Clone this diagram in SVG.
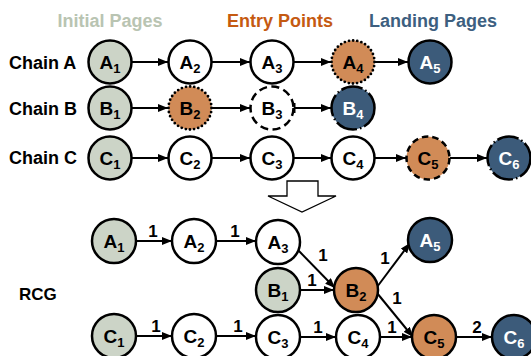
<svg xmlns="http://www.w3.org/2000/svg" width="531" height="356" viewBox="0 0 531 356">
  <defs>
    <marker id="arrow" markerUnits="userSpaceOnUse" markerWidth="10" markerHeight="8" refX="10" refY="4" orient="auto">
      <path d="M0,0 L10,4 L0,8 z" fill="#000"/>
    </marker>
    <style>
      text { font-family: "Liberation Sans", Arial, sans-serif; font-weight: bold; fill: #000; }
      .title { font-size: 18px; text-anchor: middle; }
      .rowlabel { font-size: 18px; }
      .lbl { font-size: 19px; text-anchor: middle; }
      .lbl.light { fill: #fff; }
      .sub { font-size: 13px; }
      .elbl { font-size: 17px; text-anchor: middle; }
      circle { stroke: #000; stroke-width: 2.5; }
      .init { fill: #ccd4c7; }
      .plain { fill: #fff; }
      .entry { fill: #d18b57; }
      .land { fill: #3c5b7a; }
      .dotted { stroke-dasharray: 0 4.2; stroke-linecap: round; stroke-width: 2.8; }
      .dashed { stroke-dasharray: 8 4.5; }
      .dashed2 { stroke-dasharray: 6.5 4; }
      .dashdot { stroke-dasharray: 22 3 1.5 3; }
      .edge { stroke: #000; stroke-width: 2; fill: none; marker-end: url(#arrow); }
      .tick { stroke: #000; stroke-width: 2; }
    </style>
  </defs>

  <!-- legend titles -->
  <text class="title" x="110" y="26.5" style="fill:#b9c4b2">Initial Pages</text>
  <text class="title" x="280" y="26.5" style="fill:#c55a11">Entry Points</text>
  <text class="title" x="433" y="26.5" style="fill:#3d5f80">Landing Pages</text>

  <!-- row labels -->
  <text class="rowlabel" x="9" y="68.5">Chain A</text>
  <text class="rowlabel" x="9" y="114.5">Chain B</text>
  <text class="rowlabel" x="9" y="164">Chain C</text>
  <text class="rowlabel" x="19" y="299.5" style="font-size:17px">RCG</text>

  <!-- transform arrow -->
  <polygon points="287,181 318,181 318,196 336,196 302,212 268,196 287,196" fill="#fff" stroke="#000" stroke-width="1.3"/>

  <!-- connectors -->
  <g id="connectors">
    <!-- chain A -->
    <line class="edge" x1="132" y1="62" x2="168" y2="62"/>
    <line class="edge" x1="212" y1="62" x2="250" y2="62"/>
    <line class="edge" x1="293" y1="62" x2="331" y2="62"/>
    <line class="edge" x1="375" y1="62" x2="408" y2="62"/>
    <!-- chain B -->
    <line class="edge" x1="132" y1="108" x2="168" y2="108"/>
    <line class="edge" x1="212" y1="108" x2="250" y2="108"/>
    <line class="tick" x1="294.5" y1="103" x2="294.5" y2="113"/>
    <line class="edge" x1="294.5" y1="108" x2="331" y2="108"/>
    <!-- chain C -->
    <line class="edge" x1="132" y1="158" x2="168" y2="158"/>
    <line class="edge" x1="212" y1="158" x2="250" y2="158"/>
    <line class="edge" x1="293" y1="158" x2="331" y2="158"/>
    <line class="edge" x1="375" y1="158" x2="406" y2="158"/>
    <line class="edge" x1="450" y1="158" x2="487" y2="158"/>
    <!-- RCG -->
    <line class="edge" x1="136" y1="241" x2="172" y2="241"/>
    <line class="edge" x1="216" y1="241" x2="256" y2="241"/>
    <line class="edge" x1="297" y1="249" x2="335" y2="288"/>
    <line class="edge" x1="300" y1="290" x2="334" y2="290"/>
    <line class="edge" x1="377" y1="287" x2="410" y2="243"/>
    <line class="edge" x1="377" y1="293" x2="413" y2="337"/>
    <line class="edge" x1="136" y1="336" x2="172" y2="336"/>
    <line class="edge" x1="216" y1="336" x2="256" y2="336"/>
    <line class="edge" x1="300" y1="337" x2="336" y2="337"/>
    <line class="edge" x1="380" y1="337" x2="412" y2="337"/>
    <line class="edge" x1="456" y1="337" x2="492" y2="337"/>
    <!-- edge weights -->
    <text class="elbl" x="153" y="237">1</text>
    <text class="elbl" x="235" y="237">1</text>
    <text class="elbl" x="323" y="261">1</text>
    <text class="elbl" x="312" y="286">1</text>
    <text class="elbl" x="385" y="264">1</text>
    <text class="elbl" x="397" y="304">1</text>
    <text class="elbl" x="156" y="332">1</text>
    <text class="elbl" x="238" y="332">1</text>
    <text class="elbl" x="318" y="333">1</text>
    <text class="elbl" x="392" y="333">1</text>
    <text class="elbl" x="477" y="333">2</text>
  </g>

  <!-- chain A nodes -->
  <g id="chainA-A1"><circle class="init" cx="110" cy="62" r="21.5"/><text class="lbl" x="110" y="68.5">A<tspan class="sub" dy="4">1</tspan></text></g>
  <g id="chainA-A2"><circle class="plain" cx="190" cy="62" r="21.5"/><text class="lbl" x="190" y="68.5">A<tspan class="sub" dy="4">2</tspan></text></g>
  <g id="chainA-A3"><circle class="plain" cx="272" cy="62" r="21.5"/><text class="lbl" x="272" y="68.5">A<tspan class="sub" dy="4">3</tspan></text></g>
  <g id="chainA-A4"><circle class="entry dotted" cx="353" cy="62" r="21.5"/><text class="lbl" x="353" y="68.5">A<tspan class="sub" dy="4">4</tspan></text></g>
  <g id="chainA-A5"><circle class="land" cx="430" cy="62" r="21.5"/><text class="lbl light" x="430" y="68.5">A<tspan class="sub" dy="4">5</tspan></text></g>

  <!-- chain B nodes -->
  <g id="chainB-B1"><circle class="init" cx="110" cy="108" r="21.5"/><text class="lbl" x="110" y="114.5">B<tspan class="sub" dy="4">1</tspan></text></g>
  <g id="chainB-B2"><circle class="entry dotted" cx="190" cy="108" r="21.5"/><text class="lbl" x="190" y="114.5">B<tspan class="sub" dy="4">2</tspan></text></g>
  <g id="chainB-B3"><circle class="plain dashed" cx="272" cy="108" r="21.5"/><text class="lbl" x="272" y="114.5">B<tspan class="sub" dy="4">3</tspan></text></g>
  <g id="chainB-B4"><circle class="land dashdot" cx="353" cy="108" r="21.5"/><text class="lbl light" x="353" y="114.5">B<tspan class="sub" dy="4">4</tspan></text></g>

  <!-- chain C nodes -->
  <g id="chainC-C1"><circle class="init" cx="110" cy="158" r="21.5"/><text class="lbl" x="110" y="164.5">C<tspan class="sub" dy="4">1</tspan></text></g>
  <g id="chainC-C2"><circle class="plain" cx="190" cy="158" r="21.5"/><text class="lbl" x="190" y="164.5">C<tspan class="sub" dy="4">2</tspan></text></g>
  <g id="chainC-C3"><circle class="plain" cx="272" cy="158" r="21.5"/><text class="lbl" x="272" y="164.5">C<tspan class="sub" dy="4">3</tspan></text></g>
  <g id="chainC-C4"><circle class="plain" cx="353" cy="158" r="21.5"/><text class="lbl" x="353" y="164.5">C<tspan class="sub" dy="4">4</tspan></text></g>
  <g id="chainC-C5"><circle class="entry dashed2" cx="428" cy="158" r="21.5"/><text class="lbl" x="428" y="164.5">C<tspan class="sub" dy="4">5</tspan></text></g>
  <g id="chainC-C6"><circle class="land dashdot" cx="509" cy="158" r="21.5"/><text class="lbl light" x="509" y="164.5">C<tspan class="sub" dy="4">6</tspan></text></g>

  <!-- RCG nodes -->
  <g id="rcg-A1"><circle class="init" cx="114" cy="241" r="22"/><text class="lbl" x="114" y="247.5">A<tspan class="sub" dy="4">1</tspan></text></g>
  <g id="rcg-A2"><circle class="plain" cx="194" cy="241" r="22"/><text class="lbl" x="194" y="247.5">A<tspan class="sub" dy="4">2</tspan></text></g>
  <g id="rcg-A3"><circle class="plain" cx="278" cy="242" r="22"/><text class="lbl" x="278" y="248.5">A<tspan class="sub" dy="4">3</tspan></text></g>
  <g id="rcg-B1"><circle class="init" cx="278" cy="290" r="22"/><text class="lbl" x="278" y="296.5">B<tspan class="sub" dy="4">1</tspan></text></g>
  <g id="rcg-B2"><circle class="entry" cx="356" cy="290" r="22"/><text class="lbl" x="356" y="296.5">B<tspan class="sub" dy="4">2</tspan></text></g>
  <g id="rcg-A5"><circle class="land" cx="430" cy="240" r="22"/><text class="lbl light" x="430" y="246.5">A<tspan class="sub" dy="4">5</tspan></text></g>
  <g id="rcg-C1"><circle class="init" cx="114" cy="336" r="22"/><text class="lbl" x="114" y="342.5">C<tspan class="sub" dy="4">1</tspan></text></g>
  <g id="rcg-C2"><circle class="plain" cx="194" cy="336" r="22"/><text class="lbl" x="194" y="342.5">C<tspan class="sub" dy="4">2</tspan></text></g>
  <g id="rcg-C3"><circle class="plain" cx="278" cy="337" r="22"/><text class="lbl" x="278" y="343.5">C<tspan class="sub" dy="4">3</tspan></text></g>
  <g id="rcg-C4"><circle class="plain" cx="358" cy="337" r="22"/><text class="lbl" x="358" y="343.5">C<tspan class="sub" dy="4">4</tspan></text></g>
  <g id="rcg-C5"><circle class="entry" cx="434" cy="337" r="22"/><text class="lbl" x="434" y="343.5">C<tspan class="sub" dy="4">5</tspan></text></g>
  <g id="rcg-C6"><circle class="land" cx="514" cy="337" r="22"/><text class="lbl light" x="514" y="343.5">C<tspan class="sub" dy="4">6</tspan></text></g>
</svg>
